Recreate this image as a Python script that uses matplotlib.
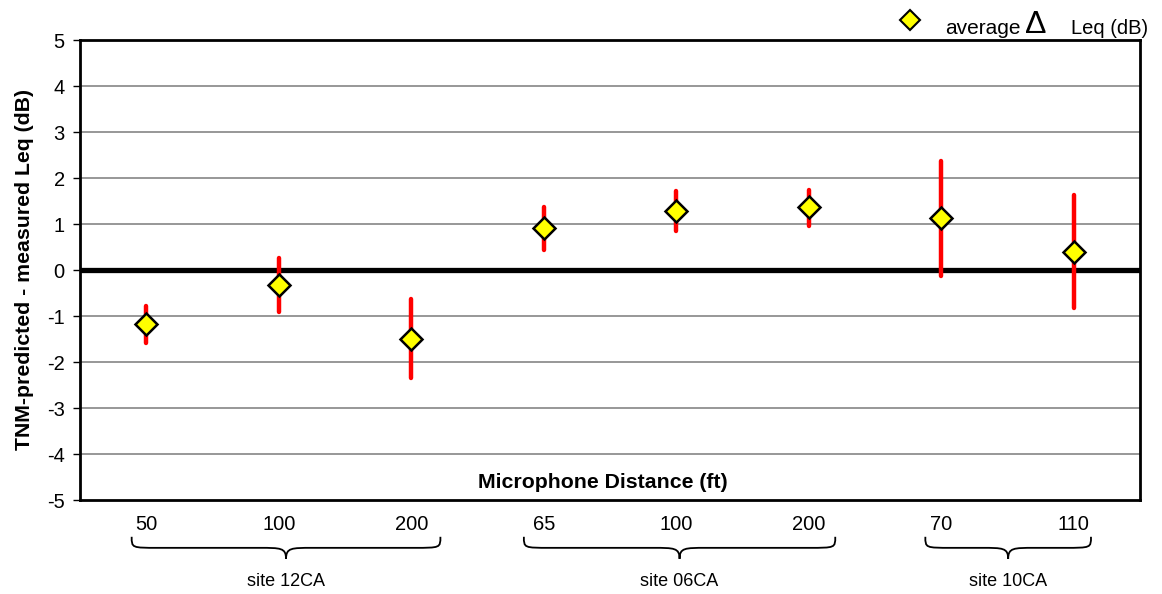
import matplotlib
matplotlib.use("Agg")
import matplotlib.pyplot as plt
import numpy as np
from matplotlib.path import Path
from matplotlib.patches import PathPatch
import matplotlib.transforms as mtransforms

plt.rcParams['font.family'] = ['Liberation Sans', 'DejaVu Sans']
plt.rcParams['axes.unicode_minus'] = False

# --- data ---
distances = ["50", "100", "200", "65", "100", "200", "70", "110"]
avg_delta = [-1.18, -0.33, -1.49, 0.91, 1.29, 1.36, 1.14, 0.40]
range_low = [-1.59, -0.91, -2.35, 0.43, 0.85, 0.96, -0.12, -0.83]
range_high = [-0.78, 0.26, -0.62, 1.38, 1.72, 1.75, 2.38, 1.63]
sites = ["site 12CA", "site 06CA", "site 10CA"]
site_members = [[0, 1, 2], [3, 4, 5], [6, 7]]

fig = plt.figure(figsize=(11.62, 5.94), dpi=100)
ax = fig.add_axes([80 / 1162, 94 / 594, 1060 / 1162, 460 / 594])

x = np.arange(len(distances))

# gridlines
for yv in range(-4, 5):
    ax.axhline(yv, color="#7a7a7a", lw=1.1, zorder=1)
ax.axhline(0, color="black", lw=3.8, zorder=2)

# ranges
ax.vlines(x, range_low, range_high, color="#ff0000", lw=3.2, capstyle="round", zorder=3)
# averages
ax.plot(x, avg_delta, ls="none", marker="D", ms=11, mfc="#ffff00", mec="black",
        mew=1.8, zorder=4)

ax.set_xlim(-0.5, len(distances) - 0.5)
ax.set_ylim(-5, 5)
ax.set_yticks(range(-5, 6))
ax.tick_params(axis="y", direction="out", length=5, width=1, labelsize=14.5, pad=6)
ax.set_xticks(x)
ax.set_xticklabels(distances, fontsize=14.5)
ax.tick_params(axis="x", length=0, pad=11)
for s in ax.spines.values():
    s.set_linewidth(2)

ax.set_ylabel("TNM-predicted - measured Leq (dB)", fontsize=15.3, fontweight="bold", labelpad=9)
ax.text(0.493, 0.037, "Microphone Distance (ft)", transform=ax.transAxes, ha="center",
        va="center", fontsize=15.3, fontweight="bold")

# braces under the site groups
trans = mtransforms.blended_transform_factory(ax.transData, ax.transAxes)
y_top, y_mid, y_bot = -0.080, -0.104, -0.128
r = 0.2
brace_pad = [(-0.11, 0.22), (-0.15, 0.20), (-0.12, 0.13)]
for name, members, (pl, pr) in zip(sites, site_members, brace_pad):
    x0 = members[0] + pl
    x1 = members[-1] + pr
    xc = (x0 + x1) / 2
    verts = [(x0, y_top), (x0, y_mid), (x0, y_mid), (x0 + r, y_mid),
             (xc - r, y_mid),
             (xc - r * 0.2, y_mid), (xc, y_mid), (xc, y_bot),
             (xc, y_mid), (xc + r * 0.2, y_mid), (xc + r, y_mid),
             (x1 - r, y_mid),
             (x1, y_mid), (x1, y_mid), (x1, y_top)]
    codes = [Path.MOVETO, Path.CURVE4, Path.CURVE4, Path.CURVE4,
             Path.LINETO,
             Path.CURVE4, Path.CURVE4, Path.CURVE4,
             Path.CURVE4, Path.CURVE4, Path.CURVE4,
             Path.LINETO,
             Path.CURVE4, Path.CURVE4, Path.CURVE4]
    ax.add_patch(PathPatch(Path(verts, codes), transform=trans, fill=False,
                           lw=1.3, ec="black", clip_on=False))
    ax.text(xc, -0.178, name, transform=trans, ha="center", va="center", fontsize=13)

# legend-like header
fig.lines.append(plt.Line2D([910 / 1162], [1 - 20 / 594], transform=fig.transFigure,
                            ls="none", marker="D", ms=10, mfc="#ffff00", mec="black", mew=1.5))
fig.text(945 / 1162, 1 - 29 / 594, "average", fontsize=15, va="center", ha="left")
fig.text(1036 / 1162, 1 - 25 / 594, "\u0394", fontsize=23, va="center", ha="center")
fig.text(1071 / 1162, 1 - 29 / 594, "Leq (dB)", fontsize=14.5, va="center", ha="left")

fig.savefig("out.png", dpi=100)
